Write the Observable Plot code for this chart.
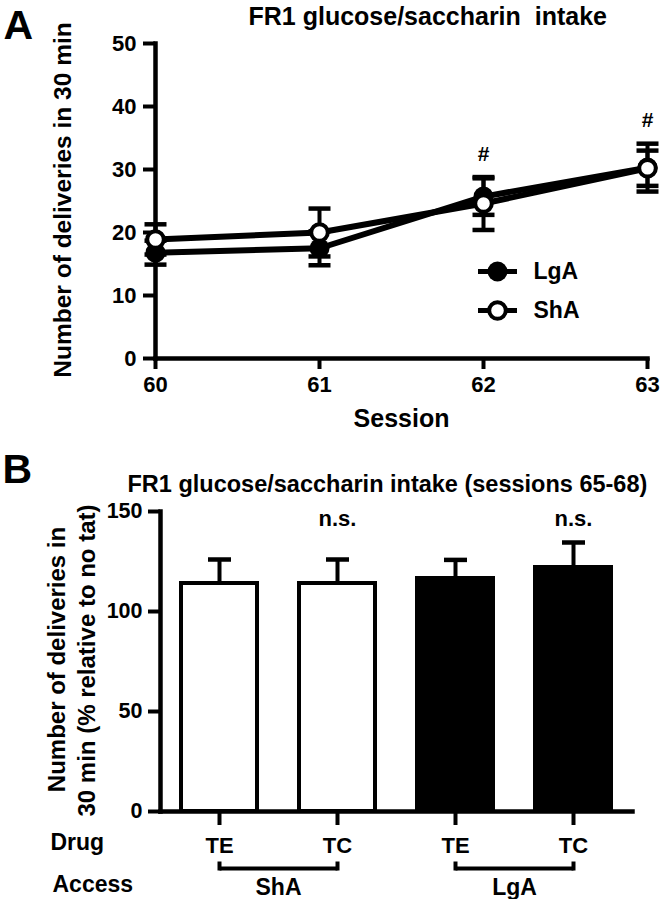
<!DOCTYPE html>
<html>
<head>
<meta charset="utf-8">
<script src="https://cdn.jsdelivr.net/npm/d3@7"></script>
<script src="https://cdn.jsdelivr.net/npm/@observablehq/plot@0.6"></script>
<style>
  html, body { margin: 0; padding: 0; background: #fff; }
  #fig { width: 664px; height: 899px; position: relative; overflow: hidden; background: #fff; }
  #fig svg { display: block; overflow: visible; }
</style>
</head>
<body>
<div id="fig"></div>
<script>
// ---------- Panel A data ----------
const sessions = [60, 61, 62, 63];
const lgaMean = [16.8, 17.5, 25.7, 30.3];
const lgaSem  = [1.9, 2.7, 2.9, 3.8];
const shaMean = [18.9, 20.0, 24.6, 30.2];
const shaSem  = [2.4, 3.8, 4.2, 2.8];
const hashSessions = [62, 63];
const yTicksA = [0, 10, 20, 30, 40, 50];
const groupsA = ["LgA", "ShA"];

// ---------- Panel B data ----------
const barKeys   = ["ShA-TE", "ShA-TC", "LgA-TE", "LgA-TC"];
const barDrug   = ["TE", "TC", "TE", "TC"];
const barAccess = ["ShA", "ShA", "LgA", "LgA"];
const barMean   = [114, 114, 116.5, 122];
const barSem    = [12, 12, 9.3, 12.5];
const nsKeys    = ["ShA-TC", "LgA-TC"];
const yTicksB   = [0, 50, 100, 150];
const accessGroups = ["ShA", "LgA"];

const FONT = "'Liberation Sans', Arial, Helvetica, sans-serif";

// custom symbols (error caps, legend line, bracket hooks)
const hbar = {draw(ctx, size) { const r = Math.sqrt(size / Math.PI); ctx.moveTo(-r, 0); ctx.lineTo(r, 0); }};
const vbar = {draw(ctx, size) { const r = Math.sqrt(size / Math.PI); ctx.moveTo(0, 0); ctx.lineTo(0, -r); }};

// ---------- Build rows ----------
const rowsA = [];
sessions.forEach((s, i) => {
  rowsA.push({group: "LgA", session: s, mean: lgaMean[i], lo: lgaMean[i] - lgaSem[i], hi: lgaMean[i] + lgaSem[i]});
  rowsA.push({group: "ShA", session: s, mean: shaMean[i], lo: shaMean[i] - shaSem[i], hi: shaMean[i] + shaSem[i]});
});
const hashRows = hashSessions.map(s => ({session: s, y: d3.max(rowsA.filter(r => r.session === s), r => r.hi)}));

const rowsB = barKeys.map((k, i) => ({key: k, drug: barDrug[i], access: barAccess[i], mean: barMean[i], hi: barMean[i] + barSem[i]}));
const drugOf = Object.fromEntries(rowsB.map(r => [r.key, r.drug]));
const bracketRows = accessGroups.map(a => ({access: a, from: a + "-TE", to: a + "-TC"}));

// ---------- Panel A ----------
const legendMarks = groupsA.flatMap((g, i) => {
  const dy = 228 + i * 39;
  return [
    Plot.dot([g], {frameAnchor: "top-left", dx: 342, dy, symbol: hbar, r: 19.5, stroke: "black", strokeWidth: 5, fill: "none"}),
    Plot.dot([g], {frameAnchor: "top-left", dx: 342, dy, r: g === "LgA" ? 10 : 8.3,
      fill: g === "LgA" ? "black" : "white", stroke: "black", strokeWidth: g === "LgA" ? 0 : 4}),
    Plot.text([g], {frameAnchor: "top-left", dx: 378, dy, text: d => d, textAnchor: "start", lineAnchor: "middle", fontSize: 23, fontWeight: "bold"})
  ];
});

const plotA = Plot.plot({
  width: 664, height: 440,
  marginTop: 43, marginBottom: 82, marginLeft: 155, marginRight: 17,
  x: {domain: [sessions[0], sessions[sessions.length - 1]]},
  y: {domain: [0, 50]},
  style: {fontFamily: FONT, fontWeight: "bold", fontSize: "22px", color: "black", background: "white", overflow: "visible"},
  marks: [
    Plot.axisY({ticks: yTicksA, tickSize: 12, tickPadding: 7, strokeWidth: 4, label: null, fontSize: 22, fontWeight: "bold"}),
    Plot.axisX({ticks: sessions, tickSize: 11, tickPadding: 7, strokeWidth: 4, label: null, tickFormat: d => String(d), fontSize: 22, fontWeight: "bold"}),
    Plot.frame({anchor: "left", strokeWidth: 4.5, strokeLinecap: "square"}),
    Plot.frame({anchor: "bottom", strokeWidth: 4.5, strokeLinecap: "square"}),
    // error bars
    Plot.ruleX(rowsA, {x: "session", y1: "lo", y2: "hi", strokeWidth: 4}),
    Plot.dot(rowsA, {x: "session", y: "hi", symbol: hbar, r: 11, stroke: "black", strokeWidth: 4.5, fill: "none"}),
    Plot.dot(rowsA, {x: "session", y: "lo", symbol: hbar, r: 11, stroke: "black", strokeWidth: 4.5, fill: "none"}),
    // lines
    Plot.line(rowsA, {x: "session", y: "mean", z: "group", stroke: "black", strokeWidth: 6}),
    // points
    Plot.dot(rowsA.filter(d => d.group === "LgA"), {x: "session", y: "mean", r: 10, fill: "black"}),
    Plot.dot(rowsA.filter(d => d.group === "ShA"), {x: "session", y: "mean", r: 8.3, fill: "white", stroke: "black", strokeWidth: 4}),
    // significance
    Plot.text(hashRows, {x: "session", y: "y", text: () => "#", dy: -23, fontSize: 21, fontWeight: "bold"}),
    // legend
    ...legendMarks,
    // texts
    Plot.text(["A"], {frameAnchor: "top-left", dx: -152, dy: -34, text: d => d, textAnchor: "start", lineAnchor: "top", fontSize: 41, fontWeight: "bold"}),
    Plot.text(["FR1 glucose/saccharin\u00a0 intake"], {frameAnchor: "top-left", dx: 93, dy: -27, text: d => d, textAnchor: "start", lineAnchor: "middle", fontSize: 25, fontWeight: "bold"}),
    Plot.text(["Number of deliveries in 30 min"], {frameAnchor: "left", dx: -92, dy: -1, rotate: -90, text: d => d, textAnchor: "middle", lineAnchor: "middle", fontSize: 24.5, fontWeight: "bold"}),
    Plot.text(["Session"], {frameAnchor: "bottom", dx: 0, dy: 60, text: d => d, textAnchor: "middle", lineAnchor: "middle", fontSize: 25, fontWeight: "bold"})
  ]
});

// ---------- Panel B ----------
const plotB = Plot.plot({
  width: 664, height: 459,
  marginTop: 71, marginBottom: 88, marginLeft: 160, marginRight: 32,
  x: {type: "band", domain: barKeys, paddingInner: 0.32, paddingOuter: 0.16},
  y: {domain: [0, 150]},
  color: {domain: ["ShA", "LgA"], range: ["white", "black"]},
  style: {fontFamily: FONT, fontWeight: "bold", fontSize: "21.5px", color: "black", background: "white", overflow: "visible"},
  marks: [
    Plot.axisY({ticks: yTicksB, tickSize: 12, tickPadding: 6, strokeWidth: 4, label: null, fontSize: 21.5, fontWeight: "bold"}),
    Plot.axisX({tickSize: 14, tickPadding: 12, strokeWidth: 4, label: null, tickFormat: k => drugOf[k], fontSize: 22, fontWeight: "bold"}),
    // error bars (upward)
    Plot.ruleX(rowsB, {x: "key", y1: "mean", y2: "hi", strokeWidth: 4}),
    Plot.dot(rowsB, {x: "key", y: "hi", symbol: hbar, r: 11.5, stroke: "black", strokeWidth: 4.5, fill: "none"}),
    // bars
    Plot.barY(rowsB, {x: "key", y: "mean", fill: "access", stroke: "black", strokeWidth: 4, insetLeft: 2, insetRight: 2}),
    Plot.frame({anchor: "left", strokeWidth: 4.5, strokeLinecap: "square"}),
    Plot.frame({anchor: "bottom", strokeWidth: 4.5, strokeLinecap: "square"}),
    // n.s.
    Plot.text(nsKeys, {x: d => d, frameAnchor: "top", dy: 7, text: () => "n.s.", lineAnchor: "middle", fontSize: 22, fontWeight: "bold"}),
    // brackets
    Plot.link(bracketRows, {x1: "from", x2: "to", y1: () => 0, y2: () => 0, dy: 57, stroke: "black", strokeWidth: 4}),
    Plot.dot(bracketRows, {x: "from", y: () => 0, dy: 59, symbol: vbar, r: 9, stroke: "black", strokeWidth: 4, fill: "none"}),
    Plot.dot(bracketRows, {x: "to", y: () => 0, dy: 59, symbol: vbar, r: 9, stroke: "black", strokeWidth: 4, fill: "none"}),
    Plot.text(bracketRows, {x: "from", y: () => 0, dx: 59, dy: 76, text: "access", lineAnchor: "middle", fontSize: 23, fontWeight: "bold"}),
    // row labels
    Plot.text(["Drug"], {frameAnchor: "bottom-left", dx: -110, dy: 31, text: d => d, textAnchor: "start", lineAnchor: "middle", fontSize: 23, fontWeight: "bold"}),
    Plot.text(["Access"], {frameAnchor: "bottom-left", dx: -108, dy: 73, text: d => d, textAnchor: "start", lineAnchor: "middle", fontSize: 23, fontWeight: "bold"}),
    // panel label, title, y label
    Plot.text(["B"], {frameAnchor: "top-left", dx: -158, dy: -58, text: d => d, textAnchor: "start", lineAnchor: "top", fontSize: 41, fontWeight: "bold"}),
    Plot.text(["FR1 glucose/saccharin intake (sessions 65-68)"], {frameAnchor: "top-left", dx: -33, dy: -27, text: d => d, textAnchor: "start", lineAnchor: "middle", fontSize: 23.5, fontWeight: "bold"}),
    Plot.text(["Number of deliveries in"], {frameAnchor: "left", dx: -103, dy: -2, rotate: -90, text: d => d, textAnchor: "middle", lineAnchor: "middle", fontSize: 24, fontWeight: "bold"}),
    Plot.text(["30 min (% relative to no tat)"], {frameAnchor: "left", dx: -73, dy: -1, rotate: -90, text: d => d, textAnchor: "middle", lineAnchor: "middle", fontSize: 24, fontWeight: "bold"})
  ]
});

const fig = document.getElementById("fig");
fig.appendChild(plotA);
fig.appendChild(plotB);
</script>
</body>
</html>
